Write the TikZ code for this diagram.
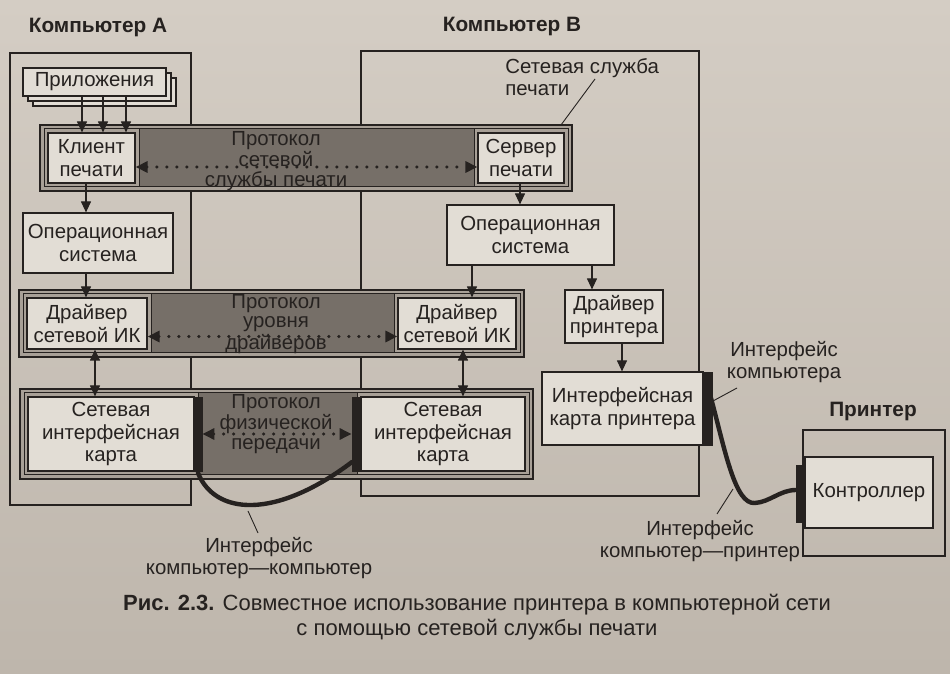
\documentclass[tikz,border=0pt]{standalone}
\usepackage{fontspec}
\setmainfont{Liberation Sans}
\usetikzlibrary{fit,arrows.meta}
\definecolor{papertop}{RGB}{212,205,196}
\definecolor{paperbot}{RGB}{190,182,172}
\definecolor{boxfill}{RGB}{226,221,213}
\definecolor{bandgray}{RGB}{118,111,104}
\definecolor{stripgray}{RGB}{168,160,151}
\definecolor{ink}{RGB}{38,34,32}
\begin{document}
\begin{tikzpicture}[x=0.5pt,y=-0.5pt,
  txt/.style={font=\fontsize{10.2}{11.3}\selectfont, text=ink, align=center, inner sep=0pt},
  ttl/.style={font=\bfseries\fontsize{10.4}{12}\selectfont, text=ink, inner sep=0pt},
  box/.style={draw=ink, fill=boxfill, line width=0.6pt, inner sep=0pt},
  frame/.style={draw=ink, line width=0.6pt, inner sep=0pt},
  bandout/.style={draw=ink, fill=stripgray, line width=0.6pt, inner sep=0pt},
  bandin/.style={draw=ink, fill=bandgray, line width=0.5pt, inner sep=0pt},
  strip/.style={draw=ink, fill=stripgray, line width=0.5pt, inner sep=0pt},
  bar/.style={fill=ink, draw=ink, inner sep=0pt},
  proto/.style={txt, font=\fontsize{10.2}{9.6}\selectfont},
  tip/.style={},
  arr/.style={draw=ink, line width=0.6pt, -{Triangle[length=5.5pt,width=5pt]}},
  arrr/.style={draw=ink, line width=0.6pt, {Triangle[length=5.5pt,width=5pt]}-{Triangle[length=5.5pt,width=5pt]}},
  dots/.style={draw=ink, line width=1.7pt, line cap=round, dash pattern=on 0pt off 5pt,
    {Triangle[length=6pt,width=5.5pt]}-{Triangle[length=6pt,width=5.5pt]}},
  leader/.style={draw=ink, line width=0.45pt},
  cable/.style={draw=ink, line width=2.2pt, line cap=round}]

% page
\useasboundingbox (0,0) rectangle (950,674);
\shade[top color=papertop, bottom color=paperbot] (0,0) rectangle (950,674);

% titles
\node[ttl] (tA) at (98,28) {Компьютер А};
\node[ttl] (tB) at (512,27) {Компьютер В};
\node[ttl] (tP) at (873,412) {Принтер};

% computer frames
\node[frame, fit={(10,53) (191,505)}] (compA) {};
\node[frame, fit={(361,51) (699,496)}] (compB) {};

% applications (stacked sheets)
\node[box, fit={(33,78) (176,106)}] (app3) {};
\node[box, fit={(28,73) (171,101)}] (app2) {};
\node[box, fit={(23,68) (166,96)}] (app1) {};
\node[txt] (app1T) at (app1) {Приложения};

% band 1: print service protocol
\node[bandout, fit={(40,125) (572,191)}] (b1o) {};
\node[bandin, fit={(44,129) (568,187)}] (b1i) {};
\node[strip, fit={(44,129) (139,187)}] (cliF) {};
\node[box, fit={(48,133) (135,183)}] (cli) {};
\node[txt] (cliT) at (cli) {Клиент\\печати};
\node[strip, fit={(474,129) (568,187)}] (srvF) {};
\node[box, fit={(478,133) (564,183)}] (srv) {};
\node[txt] (srvT) at (srv) {Сервер\\печати};
\draw[dots] ([yshift=-4.5pt]cli.east) -- ([yshift=-4.5pt]srv.west);
\node[proto] (p1) at (276,161) {Протокол\\сетевой\\службы печати};

% operating systems
\node[box, fit={(23,213) (173,273)}] (osA) {};
\node[txt] (osAT) at (osA) {Операционная\\система};
\node[box, fit={(447,205) (614,265)}] (osB) {};
\node[txt] (osBT) at (osB) {Операционная\\система};

% band 2: driver level protocol
\node[bandout, fit={(19,290) (524,357)}] (b2o) {};
\node[bandin, fit={(23,294) (520,353)}] (b2i) {};
\node[strip, fit={(23,294) (151,353)}] (drvAF) {};
\node[box, fit={(27,298) (147,349)}] (drvA) {};
\node[txt] (drvAT) at (drvA) {Драйвер\\сетевой ИК};
\node[strip, fit={(394,294) (520,353)}] (drvBF) {};
\node[box, fit={(398,298) (516,349)}] (drvB) {};
\node[txt] (drvBT) at (drvB) {Драйвер\\сетевой ИК};
\draw[dots] ([yshift=-6.5pt]drvA.east) -- ([yshift=-6.5pt]drvB.west);
\node[proto] (p2) at (276,324) {Протокол\\уровня\\драйверов};

% band 3: physical transfer protocol
\node[bandout, fit={(20,389) (533,479)}] (b3o) {};
\node[bandin, fit={(24,393) (529,475)}] (b3i) {};
\node[strip, fit={(24,393) (198,475)}] (nicAF) {};
\node[box, fit={(28,397) (194,471)}] (nicA) {};
\node[txt] (nicAT) at (nicA) {Сетевая\\интерфейсная\\карта};
\node[bar, fit={(194,397) (202,471)}] (nicAbar) {};
\node[strip, fit={(357,393) (529,475)}] (nicBF) {};
\node[box, fit={(361,397) (525,471)}] (nicB) {};
\node[txt] (nicBT) at (nicB) {Сетевая\\интерфейсная\\карта};
\node[bar, fit={(352,397) (361,471)}] (nicBbar) {};
\draw[dots] (nicAbar.east) -- (nicBbar.west);
\node[proto] (p3) at (276,424) {Протокол\\физической\\передачи};

% printer path in computer B
\node[box, fit={(565,290) (663,343)}] (pdrv) {};
\node[txt] (pdrvT) at (pdrv) {Драйвер\\принтера};
\node[box, fit={(542,372) (703,445)}] (pcard) {};
\node[txt] (pcardT) at (pcard) {Интерфейсная\\карта принтера};
\node[bar, fit={(703,372) (712,445)}] (pbar) {};

% printer
\node[frame, fit={(803,430) (945,556)}] (prn) {};
\node[box, fit={(805,457) (933,528)}] (ctl) {};
\node[txt] (ctlT) at (ctl) {Контроллер};
\node[bar, fit={(796,465) (805,522)}] (cbar) {};

% vertical flow arrows
\draw[arr] (82,0 |- app1.south) -- (82,0 |- cli.north);
\draw[arr] (103,0 |- app1.south) -- (103,0 |- cli.north);
\draw[arr] (126,0 |- app1.south) -- (126,0 |- cli.north);
\draw[arr] (86,0 |- cli.south) -- (86,0 |- osA.north);
\draw[arr] (86,0 |- osA.south) -- (86,0 |- drvA.north);
\draw[arrr] (95,0 |- drvA.south) -- (95,0 |- nicA.north);
\draw[arr] (520,0 |- srv.south) -- (520,0 |- osB.north);
\draw[arr] (472,0 |- osB.south) -- (472,0 |- drvB.north);
\draw[arr] (592,0 |- osB.south) -- (592,0 |- pdrv.north);
\draw[arrr] (463,0 |- drvB.south) -- (463,0 |- nicB.north);
\draw[arr] (622,0 |- pdrv.south) -- (622,0 |- pcard.north);

% cables
\coordinate (cA) at (198,473);
\coordinate (cB) at (352,462);
\draw[cable] (cA) .. controls (215,515) and (275,520) .. (cB);
\coordinate (cP) at (711,398);
\coordinate (cM) at (755,503);
\coordinate (cC) at (796,490);
\draw[cable] (cP) .. controls (725,450) and (735,505) .. (cM)
  .. controls (770,502) and (780,490) .. (cC);

% annotations
\node[txt, align=left, anchor=north west] (svc) at (505,58) {Сетевая служба\\печати};
\coordinate (svcL1) at (595,79);
\coordinate (svcL2) at (561,125);
\draw[leader] (svcL1) -- (svcL2);

\node[txt] (ifc) at (784,362) {Интерфейс\\компьютера};
\coordinate (ifcL1) at (737,388);
\coordinate (ifcL2) at (713,401);
\draw[leader] (ifcL1) -- (ifcL2);

\node[txt] (ifp) at (700,541) {Интерфейс\\компьютер—принтер};
\coordinate (ifpL1) at (717,514);
\coordinate (ifpL2) at (733,489);
\draw[leader] (ifpL1) -- (ifpL2);

\node[txt] (ifk) at (259,558) {Интерфейс\\компьютер—компьютер};
\coordinate (ifkL1) at (258,533);
\coordinate (ifkL2) at (248,511);
\draw[leader] (ifkL1) -- (ifkL2);

% caption
\node[txt, font=\fontsize{11}{12.5}\selectfont] (cap) at (477,617)
  {\textbf{Рис. 2.3.} Совместное использование принтера в компьютерной сети\\
   с помощью сетевой службы печати};
\end{tikzpicture}
\end{document}
